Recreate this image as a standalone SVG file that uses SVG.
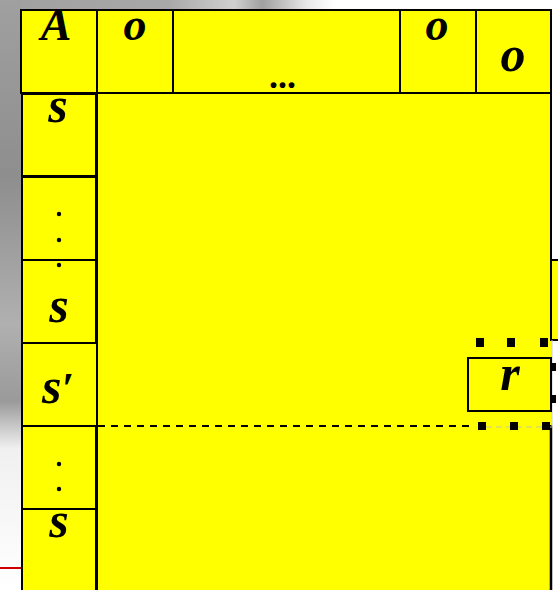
<svg xmlns="http://www.w3.org/2000/svg" width="558" height="590" viewBox="0 0 558 590">
<defs>
<linearGradient id="topbg" x1="0" y1="0" x2="1" y2="0">
<stop offset="0" stop-color="#a0a0a0"/>
<stop offset="0.3" stop-color="#a8a8a8"/>
<stop offset="0.42" stop-color="#d0d0d0"/>
<stop offset="0.47" stop-color="#a0a0a0"/>
<stop offset="0.55" stop-color="#e8e8e8"/>
<stop offset="0.6" stop-color="#ffffff"/>
<stop offset="1" stop-color="#ffffff"/>
</linearGradient>
<linearGradient id="leftbg" x1="0" y1="0" x2="0" y2="1">
<stop offset="0" stop-color="#a0a0a0"/>
<stop offset="0.3" stop-color="#8e8e8e"/>
<stop offset="0.55" stop-color="#b0b0b0"/>
<stop offset="0.68" stop-color="#9a9a9a"/>
<stop offset="0.76" stop-color="#f0f0f0"/>
<stop offset="1" stop-color="#ffffff"/>
</linearGradient>
</defs>
<style>
.cell{fill:#ffff00;stroke:#000;stroke-width:2}
.t{font-family:"Liberation Serif","Times New Roman",serif;font-weight:bold;font-style:italic;font-size:50px;fill:#000}
.th{font-family:"Liberation Serif","Times New Roman",serif;font-weight:bold;font-style:italic;font-size:46px;fill:#000}
.dot{fill:#000}
.sq{fill:#000}
</style>
<rect x="0" y="0" width="558" height="590" fill="#ffffff"/>
<rect x="0" y="0" width="558" height="12" fill="url(#topbg)"/>
<rect x="0" y="0" width="22" height="590" fill="url(#leftbg)"/>
<line x1="0" y1="568" x2="21" y2="568" stroke="#cc0000" stroke-width="2"/>

<g id="extension"><rect class="cell" x="551" y="260" width="10" height="80"/></g>

<g id="main"><rect class="cell" x="97" y="93" width="454" height="510"/></g>
<rect x="545" y="341" width="7" height="84" fill="#ffff00"/>
<line x1="552" y1="340" x2="552" y2="426" stroke="#cccccc" stroke-width="1"/>
<line x1="551" y1="92" x2="551" y2="340" stroke="#000" stroke-width="2"/>
<line x1="551" y1="426" x2="551" y2="590" stroke="#000" stroke-width="2.5"/>

<g id="header">
<g id="cell-A"><rect class="cell" x="21" y="10" width="76" height="83"/><text class="th" x="56" y="40" text-anchor="middle">A</text></g>
<g id="cell-o1"><rect class="cell" x="97" y="10" width="76" height="83"/><text class="th" x="135" y="40" text-anchor="middle">o</text></g>
<g id="cell-dots"><rect class="cell" x="173" y="10" width="227" height="83"/><text x="269" y="88" font-family="Liberation Serif, serif" font-weight="bold" font-size="36">...</text></g>
<g id="cell-o2"><rect class="cell" x="400" y="10" width="76" height="83"/><text class="th" x="437" y="40" text-anchor="middle">o</text></g>
<g id="cell-o3"><rect class="cell" x="476" y="10" width="75" height="83"/><text class="t" x="513" y="71" text-anchor="middle">o</text></g>
</g>

<g id="column">
<g id="cell-s1"><rect class="cell" x="22" y="94" width="74" height="82"/><text class="t" x="58" y="122" text-anchor="middle">s</text></g>
<g id="cell-vdots1"><rect class="cell" x="22" y="177" width="74" height="83"/><circle class="dot" cx="59" cy="214" r="2.2"/><circle class="dot" cx="59" cy="240" r="2.2"/><circle class="dot" cx="59" cy="265" r="2.2"/></g>
<g id="cell-s2"><rect class="cell" x="22" y="260" width="74" height="83"/><circle class="dot" cx="59" cy="265" r="2.2"/><text class="t" x="59" y="322" text-anchor="middle">s</text></g>
<g id="cell-sprime"><rect class="cell" x="22" y="343" width="75" height="83"/><text class="t" x="42" y="403">s<tspan font-size="44">′</tspan></text></g>
<g id="cell-vdots2"><rect class="cell" x="22" y="426" width="74" height="83"/><circle class="dot" cx="59" cy="464" r="2.2"/><circle class="dot" cx="59" cy="489" r="2.2"/></g>
<g id="cell-s3"><rect class="cell" x="22" y="509" width="74" height="90"/><text class="t" x="59" y="537" text-anchor="middle">s</text></g>
</g>

<g id="cell-r"><rect class="cell" x="468" y="358" width="83" height="53"/><text class="t" x="510" y="390" text-anchor="middle">r</text></g>

<g id="connectors">
<line x1="98" y1="426" x2="474" y2="426" stroke="#000" stroke-width="2" stroke-dasharray="7 6"/>
<line x1="486" y1="427" x2="552" y2="427" stroke="#c8c8a0" stroke-width="1" stroke-dasharray="6 4"/>
<rect class="sq" x="476" y="338" width="8" height="9"/>
<rect class="sq" x="507" y="338" width="8" height="9"/>
<rect class="sq" x="540" y="338" width="8" height="9"/>
<rect class="sq" x="552" y="363" width="4" height="8"/>
<rect class="sq" x="552" y="395" width="4" height="8"/>
<rect class="sq" x="478" y="422" width="8" height="8"/>
<rect class="sq" x="510" y="422" width="8" height="8"/>
<rect class="sq" x="542" y="422" width="8" height="8"/>
</g>
</svg>
